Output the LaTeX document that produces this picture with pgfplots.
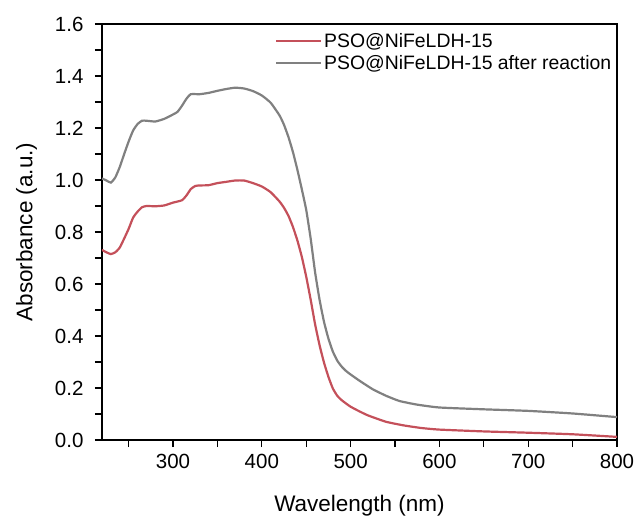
\documentclass[border=0pt]{standalone}
\usepackage{pgfplots}
\pgfplotsset{compat=1.18}
\usepackage{fontspec}
\setmainfont{Liberation Sans}
\definecolor{redc}{RGB}{196,80,90}
\definecolor{grayc}{RGB}{128,128,128}
\begin{document}
\begin{tikzpicture}
\begin{axis}[
  name=ax,
  scale only axis,
  width=515pt, height=416pt,
  xmin=220, xmax=800, ymin=0, ymax=1.6,
  xtick={300,400,500,600,700,800},
  minor xtick={250,350,450,550,650,750},
  ytick={0,0.2,...,1.6},
  minor ytick={0.1,0.3,...,1.5},
  tick align=outside,
  major tick length=7pt, minor tick length=7pt,
  xtick pos=bottom, ytick pos=left,
  every tick/.style={black, line width=1.1pt},
  axis line style={line width=1.1pt},
  /pgf/number format/assume math mode=true,
  ticklabel style={font=\fontsize{20.5}{24}\selectfont},
  xticklabel style={yshift=-4pt},
  yticklabel style={xshift=-8pt, /pgf/number format/.cd, fixed, fixed zerofill, precision=1},
  xlabel={Wavelength (nm)},
  ylabel={Absorbance (a.u.)},
  label style={font=\fontsize{22.5}{26}\selectfont},
  xlabel style={at={(rel axis cs:0.5,0)}, anchor=base, yshift=-71pt},
  ylabel style={at={(rel axis cs:0,0.5)}, anchor=base, yshift=69.5pt},
  legend style={draw=none, fill=none, at={(0.995,0.985)}, anchor=north east,
    font=\fontsize{19.4}{22}\selectfont, row sep=2pt, inner sep=1pt},
  legend cell align=left,
  legend image code/.code={\draw[#1, line width=2.2pt] (0pt,0pt) -- (45pt,0pt);},
]
\addplot[redc, line width=2.2pt, smooth, tension=0.3] coordinates {
(220,0.731)(225,0.722)(230,0.715)(235,0.722)(240,0.740)(245,0.775)(250,0.812)
(255,0.855)(260,0.878)(265,0.895)(270,0.900)(280,0.899)(290,0.902)(300,0.913)
(310,0.922)(315,0.940)(320,0.965)(325,0.977)(330,0.979)(340,0.980)(350,0.988)
(360,0.993)(370,0.998)(380,0.998)(390,0.988)(400,0.975)(410,0.953)(420,0.917)
(425,0.893)(430,0.862)(435,0.820)(440,0.768)(445,0.705)(450,0.628)(455,0.540)
(460,0.445)(465,0.365)(470,0.298)(475,0.243)(480,0.198)(485,0.170)(490,0.153)
(495,0.140)(500,0.128)(510,0.110)(520,0.094)(540,0.070)(560,0.056)(580,0.046)
(600,0.040)(650,0.033)(700,0.028)(750,0.022)(800,0.012)
};
\addlegendentry{PSO@NiFeLDH-15}
\addplot[grayc, line width=2.2pt, smooth, tension=0.3] coordinates {
(220,1.006)(225,0.998)(230,0.990)(235,1.010)(240,1.050)(245,1.100)(250,1.148)
(255,1.190)(260,1.215)(265,1.228)(270,1.228)(280,1.225)(290,1.235)(300,1.252)
(305,1.262)(310,1.285)(315,1.312)(320,1.330)(330,1.330)(340,1.335)(350,1.343)
(360,1.350)(370,1.355)(380,1.352)(390,1.342)(400,1.325)(410,1.297)(420,1.248)
(425,1.212)(430,1.165)(435,1.108)(440,1.040)(445,0.965)(450,0.885)(455,0.775)
(460,0.645)(465,0.540)(470,0.455)(475,0.390)(480,0.340)(485,0.305)(490,0.282)
(495,0.265)(500,0.252)(510,0.228)(525,0.195)(540,0.170)(555,0.150)(575,0.136)
(600,0.125)(650,0.118)(700,0.112)(750,0.102)(800,0.088)
};
\addlegendentry{PSO@NiFeLDH-15 after reaction}
\end{axis}
\pgfresetboundingbox
\path ([shift={(-102pt,-79pt)}]ax.south west) rectangle ([shift={(20pt,24pt)}]ax.north east);
\end{tikzpicture}
\end{document}
